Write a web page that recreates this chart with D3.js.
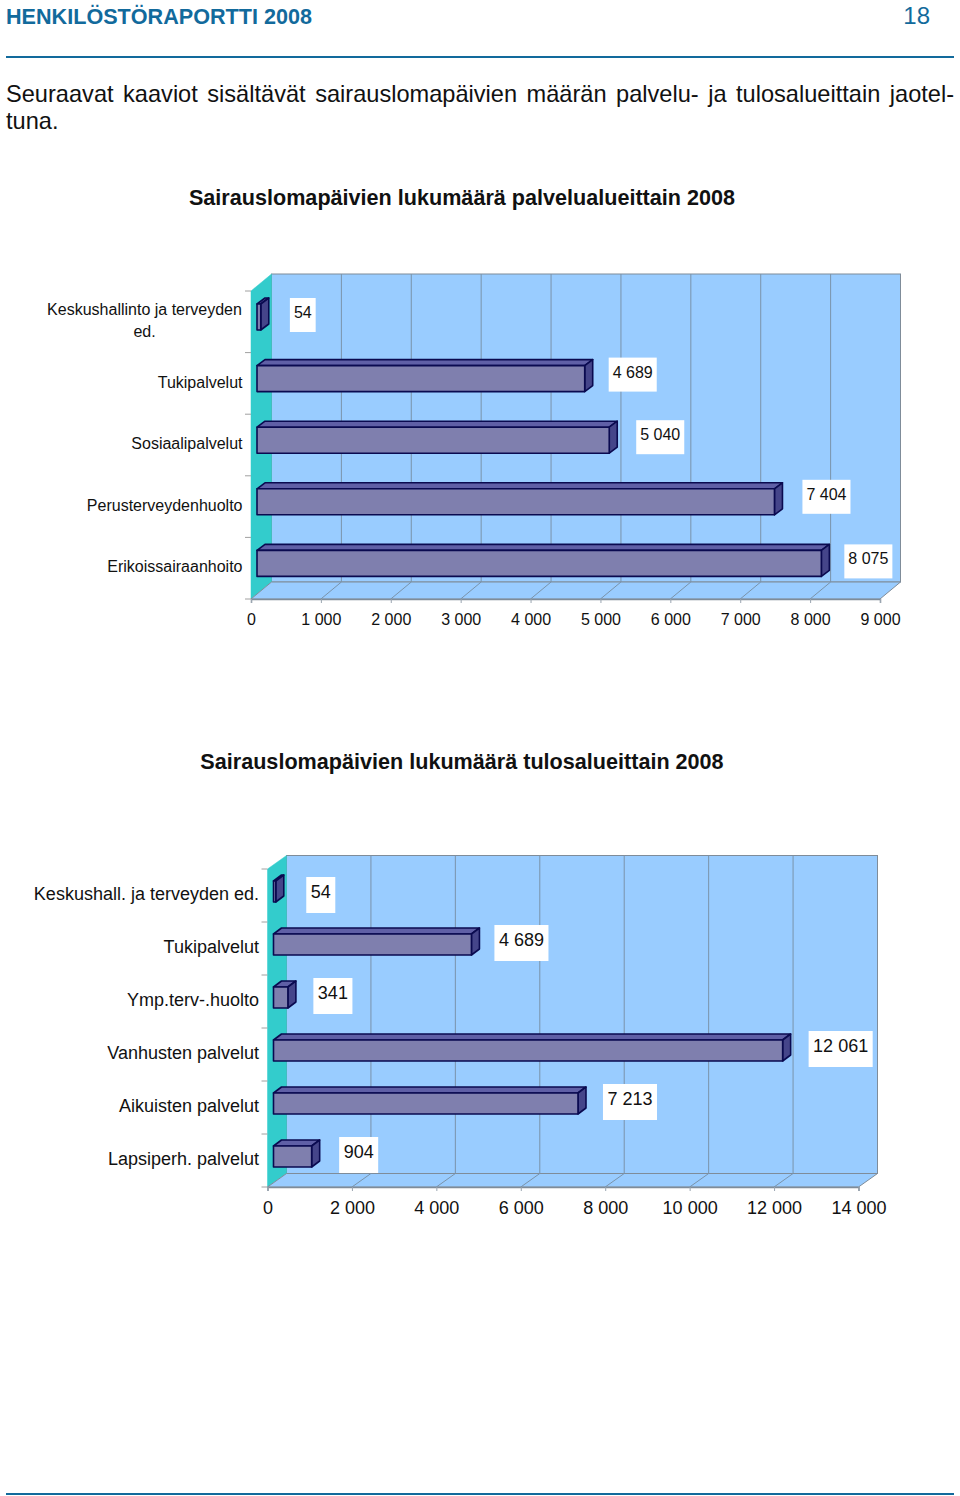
<!DOCTYPE html>
<html><head><meta charset="utf-8">
<script src="https://cdn.jsdelivr.net/npm/d3@7"></script>
<style>
html,body{margin:0;padding:0;background:#fff}
svg{display:block}
text{font-family:"Liberation Sans",Arial,sans-serif;fill:#111}
</style></head><body><div id="c"></div>
<script>
// ---- data ----
const categories1 = ["Keskushallinto ja terveyden\ned.", "Tukipalvelut", "Sosiaalipalvelut", "Perusterveydenhuolto", "Erikoissairaanhoito"];
const values1 = [54, 4689, 5040, 7404, 8075];
const ticks1 = [0, 1000, 2000, 3000, 4000, 5000, 6000, 7000, 8000, 9000];
const categories2 = ["Keskushall. ja terveyden ed.", "Tukipalvelut", "Ymp.terv-.huolto", "Vanhusten palvelut", "Aikuisten palvelut", "Lapsiperh. palvelut"];
const values2 = [54, 4689, 341, 12061, 7213, 904];
const ticks2 = [0, 2000, 4000, 6000, 8000, 10000, 12000, 14000];

const fmt = d3.formatLocale({decimal: ",", thousands: " ", grouping: [3], currency: ["", ""]}).format(",d");
const svg = d3.select("#c").append("svg").attr("width", 960).attr("height", 1496);
const BLUE = "#126a9c";

// ---- page furniture ----
svg.append("text").attr("x", 6).attr("y", 24).attr("font-size", 21.6).attr("font-weight", "bold").style("fill", BLUE)
  .text("HENKILÖSTÖRAPORTTI 2008");
svg.append("text").attr("x", 930).attr("y", 24).attr("text-anchor", "end").attr("font-size", 24).style("fill", BLUE).text("18");
[57, 1494].forEach(y => svg.append("line").attr("x1", 6).attr("x2", 954).attr("y1", y).attr("y2", y)
  .attr("stroke", BLUE).attr("stroke-width", 2));
const l1 = svg.append("text").attr("x", 6).attr("y", 102).attr("font-size", 23.6)
  .text("Seuraavat kaaviot sisältävät sairauslomapäivien määrän palvelu- ja tulosalueittain jaotel-");
const gap = (951 - l1.node().getComputedTextLength()) / 9;
l1.style("word-spacing", gap + "px");
svg.append("text").attr("x", 6).attr("y", 129).attr("font-size", 23.6).text("tuna.");

function chart(o) {
  const g = svg.append("g");
  const x = d3.scaleLinear().domain(o.domain).range(o.xRange);
  const y = d3.scaleBand().domain(o.categories).range(o.yRange);
  const [dx, dy] = o.depth;
  const [x0, x1] = o.xRange, [yT, yB] = o.yRange;
  const GR = "#7f8c99";

  g.append("text").attr("x", 462).attr("y", o.titleY).attr("text-anchor", "middle")
    .attr("font-size", 21.6).attr("font-weight", "bold").text(o.title);

  // back wall, side wall, floor
  g.append("rect").attr("x", x0 + dx).attr("y", yT + dy).attr("width", x1 - x0).attr("height", yB - yT)
    .attr("fill", "#99ccff").attr("stroke", GR);
  g.append("path").attr("d", `M${x0},${yT}L${x0 + dx},${yT + dy}V${yB + dy}L${x0},${yB}Z`)
    .attr("fill", "#33cccc").attr("stroke", "#33cccc").attr("stroke-width", .5);
  g.append("path").attr("d", `M${x0},${yB}L${x0 + dx},${yB + dy}H${x1 + dx}L${x1},${yB}Z`)
    .attr("fill", "#99ccff").attr("stroke", GR);

  // gridlines on wall and floor
  g.selectAll(".grid").data(o.ticks.slice(1, -1)).join("path")
    .attr("fill", "none").attr("stroke", "#7a93aa").attr("stroke-width", 1)
    .attr("d", d => `M${x(d)},${yB}L${x(d) + dx},${yB + dy}V${yT + dy}`);

  // front floor edge + bottom axis
  const ax = g.append("g").attr("transform", `translate(0,${yB})`)
    .call(d3.axisBottom(x).tickValues(o.ticks).tickFormat(fmt).tickSizeOuter(0).tickSize(4).tickPadding(o.tickPad));
  ax.select(".domain").attr("stroke", "#7f8c99").attr("stroke-width", 1.5);
  ax.selectAll(".tick line").attr("stroke", "#9aa5b0");
  ax.selectAll("text").attr("font-size", o.fontSize).attr("font-family", '"Liberation Sans"').style("fill", "#111");

  // left ticks on band edges
  const edges = o.categories.map(c => y(c)).concat([yB]);
  g.selectAll(".lt").data(edges).join("line").attr("x1", x0 - 6).attr("x2", x0)
    .attr("y1", d => d).attr("y2", d => d).attr("stroke", "#a0a0a0");

  // category labels
  o.categories.forEach((c, i) => {
    const lines = c.split("\n");
    const by = y(c) + o.labelBase;
    if (lines.length === 1) {
      g.append("text").attr("x", o.labelX).attr("y", by).attr("text-anchor", "end").attr("font-size", o.fontSize).text(c);
    } else {
      lines.forEach((t, j) => g.append("text").attr("x", o.labelX - 98).attr("y", y(c) + 24 + j * 22)
        .attr("text-anchor", "middle").attr("font-size", o.fontSize).text(t));
    }
  });

  // bars
  const bx = o.barShift, bh = o.barHeight, bo = o.barOffset, ddx = 8, ddy = 6;
  const bars = g.selectAll(".bar").data(o.values).join("g");
  const sw = {stroke: "#0a0a50", "stroke-width": 1.6, "stroke-linejoin": "round"};
  const put = (s, a) => { Object.entries(a).forEach(([k, v]) => s.attr(k, v)); return s; };
  put(bars.append("path"), sw).attr("fill", "#5f5fa6").attr("d", (d, i) => {
    const t = y(o.categories[i]) + bo, l = x(0) + bx, r = x(d) + bx;
    return `M${l},${t}L${l + ddx},${t - ddy}H${r + ddx}L${r},${t}Z`;
  });
  put(bars.append("path"), sw).attr("fill", "#45458a").attr("d", (d, i) => {
    const t = y(o.categories[i]) + bo, r = x(d) + bx;
    return `M${r},${t}L${r + ddx},${t - ddy}V${t + bh - ddy}L${r},${t + bh}Z`;
  });
  put(bars.append("rect"), sw).attr("fill", "#7f7fae")
    .attr("x", x(0) + bx).attr("width", d => x(d) - x(0))
    .attr("y", (d, i) => y(o.categories[i]) + bo).attr("height", bh);

  // value labels on white boxes
  o.values.forEach((v, i) => {
    const cx = x(v) + bx + o.labelGap[i];
    const top = y(o.categories[i]) + o.boxTop[i];
    const t = fmt(v);
    const tmp = g.append("text").attr("font-size", o.fontSize).attr("text-anchor", "middle").text(t);
    const w = tmp.node().getComputedTextLength() + o.boxPad;
    g.insert("rect", () => tmp.node()).attr("x", cx - w / 2).attr("y", top).attr("width", w).attr("height", o.boxH).attr("fill", "#fff");
    tmp.attr("x", cx).attr("y", top + o.textBase);
  });
}

chart({
  title: "Sairauslomapäivien lukumäärä palvelualueittain 2008", titleY: 205,
  categories: categories1, values: values1, ticks: ticks1, domain: [0, 9000],
  xRange: [251, 880], yRange: [291, 599], depth: [20.5, -17], fontSize: 16, tickPad: 11,
  labelX: 242.5, labelBase: 35, barShift: 6, barHeight: 26, barOffset: 13,
  labelGap: [42, 48, 51, 52, 47], boxTop: [7, 5, 6, 4, 7], boxH: 34, boxPad: 8, textBase: 20
});
chart({
  title: "Sairauslomapäivien lukumäärä tulosalueittain 2008", titleY: 769,
  categories: categories2, values: values2, ticks: ticks2, domain: [0, 14000],
  xRange: [267.5, 858.5], yRange: [869, 1187], depth: [19, -13.5], fontSize: 18, tickPad: 10,
  labelX: 259, labelBase: 31, barShift: 6, barHeight: 21, barOffset: 12,
  labelGap: [45, 50, 45, 58, 52, 47], boxTop: [8, 3, 3, 3, 3, 3], boxH: 36, boxPad: 9, textBase: 21
});
</script></body></html>
